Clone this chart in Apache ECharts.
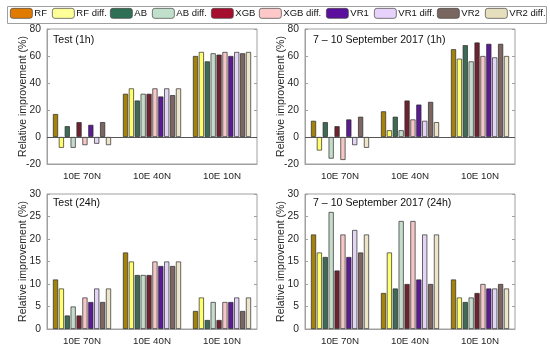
<!DOCTYPE html>
<html><head><meta charset="utf-8">
<script src="https://cdn.jsdelivr.net/npm/echarts@6/dist/echarts.min.js"></script>
<style>html,body{margin:0;padding:0;background:#fff}#c{width:550px;height:350px}</style>
</head><body><div id="c"></div>
<script>
const categories = ['10E 70N', '10E 40N', '10E 10N'];
const seriesNames = ['RF', 'RF diff.', 'AB', 'AB diff.', 'XGB', 'XGB diff.', 'VR1', 'VR1 diff.', 'VR2', 'VR2 diff.'];
const panelTitles = ['Test (1h)', '7 \u2013 10 September 2017 (1h)', 'Test (24h)', '7 \u2013 10 September 2017 (24h)'];
// rows follow seriesNames; columns follow categories
const test1h = [
  [17, 32, 60], [-8, 36, 63], [8, 27, 56], [-8, 32, 62], [11, 32, 61],
  [-6, 36, 63], [9, 30, 60], [-5, 36, 63], [11, 31, 62], [-6, 36, 63]
];
const sept1h = [
  [12, 19, 65], [-10, 5, 58], [11, 15, 68], [-16, 5, 56], [8, 27, 70],
  [-17, 13, 60], [13, 24, 69], [-6, 12, 59], [15, 26, 69], [-8, 11, 60]
];
const test24h = [
  [11, 17, 4], [9, 15, 7], [3, 12, 2], [5, 12, 6], [3, 12, 2],
  [7, 15, 6], [6, 14, 6], [9, 15, 7], [6, 14, 4], [9, 15, 7]
];
const sept24h = [
  [21, 8, 11], [17, 17, 7], [16, 9, 6], [26, 24, 7], [13, 10, 8],
  [21, 24, 10], [16, 11, 9], [22, 21, 9], [17, 10, 10], [21, 21, 9]
];
const yTicks1h = { min: -20, max: 80, interval: 20 };
const yTicks24h = { min: 0, max: 30, interval: 5 };

const barColors = ['#a4820a', '#ffff6e', '#3d6b55', '#c6dccb', '#6e2230', '#f5c6c6', '#5c1a96', '#e3d5f6', '#7d6562', '#ece5c9'];
const legendColors = ['#e07b00', '#ffff99', '#2f6f55', '#c0e0cc', '#a50f2d', '#ffc8c8', '#5c0f9c', '#e6d2fa', '#7a6661', '#e6dfbd'];

const panels = [test1h, sept1h, test24h, sept24h];
const yScales = [yTicks1h, yTicks1h, yTicks24h, yTicks24h];
const grids = [
  { left: 47, top: 29, width: 210, height: 135 },
  { left: 305, top: 29, width: 210, height: 135 },
  { left: 47, top: 194, width: 210, height: 135 },
  { left: 305, top: 194, width: 210, height: 135 }
];
const font = 'Liberation Sans, Arial, sans-serif';
const xAxis = [], yAxis = [], series = [], graphic = [];
grids.forEach((g, i) => {
  g.show = true; g.borderColor = '#a0a0a0'; g.borderWidth = 1; g.containLabel = false;
  xAxis.push({
    type: 'category', gridIndex: i, data: categories, position: 'bottom',
    axisLine: { onZero: false, lineStyle: { color: '#a0a0a0' } },
    axisTick: { inside: true, alignWithLabel: true, length: 3, lineStyle: { color: '#a0a0a0' } },
    axisLabel: { color: '#262626', fontSize: 9.8, fontFamily: font, margin: 7 }
  });
  xAxis.push({
    type: 'category', gridIndex: i, data: categories, position: 'top',
    axisLine: { show: false },
    axisTick: { inside: true, alignWithLabel: true, length: 3, lineStyle: { color: '#a0a0a0' } },
    axisLabel: { show: false }
  });
  const ys = yScales[i];
  yAxis.push({
    type: 'value', gridIndex: i, min: ys.min, max: ys.max, interval: ys.interval,
    name: 'Relative improvement (%)', nameLocation: 'middle', nameGap: 18, nameMoveOverlap: false,
    nameTextStyle: { color: '#262626', fontSize: 10.5, fontFamily: font },
    axisLine: { show: true, lineStyle: { color: '#a0a0a0' } },
    axisTick: { show: true, inside: true, length: 3, lineStyle: { color: '#a0a0a0' } },
    axisLabel: { color: '#262626', fontSize: 10.3, fontFamily: font, margin: 6 },
    splitLine: { show: false }
  });
  yAxis.push({
    type: 'value', gridIndex: i, min: ys.min, max: ys.max, interval: ys.interval, position: 'right',
    axisLine: { show: false },
    axisTick: { show: true, inside: true, length: 3, lineStyle: { color: '#a0a0a0' } },
    axisLabel: { show: false }, splitLine: { show: false }
  });
  panels[i].forEach((vals, s) => {
    const ser = {
      type: 'bar', name: seriesNames[s], xAxisIndex: 2 * i, yAxisIndex: 2 * i, data: vals,
      barGap: '15%', barCategoryGap: '17%',
      itemStyle: { color: barColors[s], borderColor: '#2a2a2a', borderWidth: 0.7 },
      animation: false
    };
    if (s === 0 && ys.min < 0) {
      ser.markLine = {
        silent: true, symbol: 'none', label: { show: false }, animation: false,
        lineStyle: { color: '#555', width: 1, type: 'solid' },
        data: [{ yAxis: 0 }]
      };
    }
    series.push(ser);
  });
  graphic.push({
    type: 'text', left: (i % 2 === 0) ? 53 : 313, top: (i < 2 ? 35 : 198),
    style: { text: panelTitles[i], fill: '#111', font: '10.6px ' + font }
  });
});
const legendLefts = [10, 52, 110, 152, 211, 259, 326, 374, 437, 485];
const legend = seriesNames.map((n, k) => ({
  left: legendLefts[k], top: 8, padding: 0, itemWidth: 22, itemHeight: 10, itemGap: 0,
  selectedMode: false,
  textStyle: { fontSize: 9.5, fontFamily: font, color: '#111', padding: [0, 0, 0, -3] },
  data: [{ name: n, itemStyle: { color: legendColors[k], borderColor: '#444', borderWidth: 0.7 } }]
}));
graphic.push({
  type: 'rect', left: 5, top: 4, shape: { width: 539, height: 17 },
  style: { fill: 'none', stroke: '#a0a0a0', lineWidth: 1 }, z: -1
});
const chart = echarts.init(document.getElementById('c'), null, { renderer: 'canvas' });
chart.setOption({ animation: false, grid: grids, xAxis, yAxis, series, legend, graphic });
</script></body></html>
